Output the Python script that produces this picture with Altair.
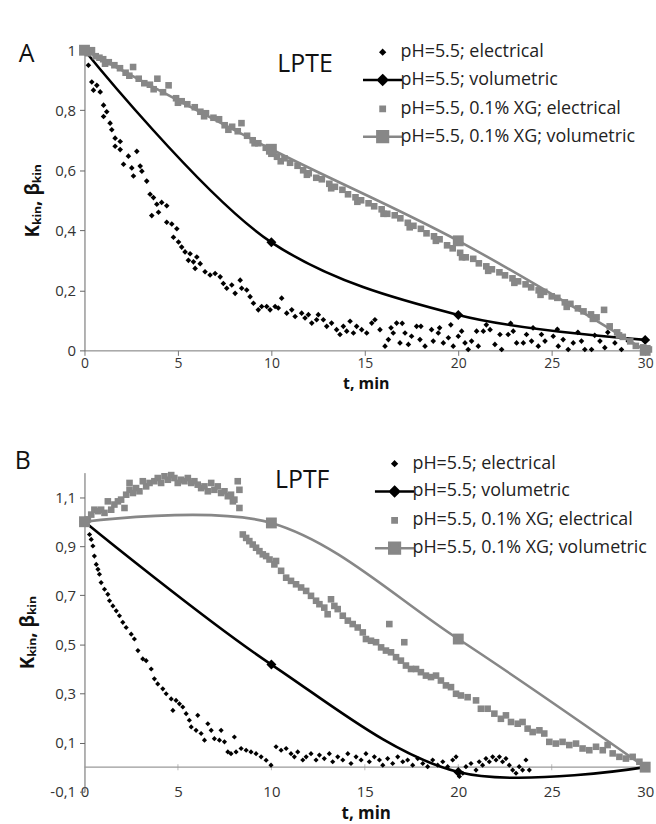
import altair as alt
import pandas as pd

GRAY = "#878787"
BLACK = "#000000"
FONT = "Open Sans"

series_names = ["pH=5.5; electrical", "pH=5.5; volumetric",
                "pH=5.5, 0.1% XG; electrical", "pH=5.5, 0.1% XG; volumetric"]
x_ticks = [0, 5, 10, 15, 20, 25, 30]
a_y_ticks = [0, 0.2, 0.4, 0.6, 0.8, 1.0]
b_y_ticks = [-0.1, 0.1, 0.3, 0.5, 0.7, 0.9, 1.1]

# ---------------- Panel A (LPTE) ----------------
a_blk_el_t = [0.21, 0.39, 0.48, 0.66, 0.84, 1.02, 1.02, 1.19, 1.37, 1.46, 1.64, 1.64, 1.91, 1.91, 2.09,
              2.35, 2.53, 2.62, 2.80, 2.98, 3.07, 3.33, 3.51, 3.60, 3.69, 3.87, 3.96, 4.13, 4.40, 4.40,
              4.67, 4.76, 4.94, 5.03, 5.20, 5.38, 5.56, 5.65, 5.83, 5.92, 6.01, 6.19, 6.45, 6.72, 6.99,
              7.26, 7.43, 7.61, 7.88, 8.06, 8.33, 8.41, 8.68, 8.86, 9.04, 9.30, 9.48, 9.75, 9.93, 10.2,
              10.37, 10.55, 10.82, 11.09, 11.27, 11.62, 11.8, 11.98, 12.16, 12.42, 12.51, 12.78, 12.96,
              13.22, 13.49, 13.67, 13.85, 14.03, 14.21, 14.39, 14.56, 14.83, 15.1, 15.37, 15.54, 15.81,
              16.08, 16.26, 16.4, 16.52, 16.70, 16.88, 17.0, 17.15, 17.33, 17.5, 17.77, 17.95, 18.0, 18.22,
              18.57, 18.66, 18.93, 19.0, 19.2, 19.47, 19.6, 19.73, 20.0, 20.18, 20.36, 20.53, 20.71, 20.98,
              21.07, 21.34, 21.5, 21.7, 21.96, 22.23, 22.32, 22.67, 22.8, 22.94, 23.12, 23.48, 23.65,
              23.92, 24.0, 24.28, 24.45, 24.64, 25.08, 25.3, 25.35, 25.61, 25.88, 26.15, 26.4, 26.59,
              26.77, 27.13, 27.3, 27.58, 27.84, 28.0, 28.38, 28.73, 29.09]
a_blk_el_v = [0.95, 0.894, 0.867, 0.883, 0.861, 0.817, 0.779, 0.795, 0.757, 0.735, 0.707, 0.68, 0.696, 0.669, 0.62,
              0.647, 0.608, 0.581, 0.663, 0.614, 0.597, 0.564, 0.52, 0.449, 0.509, 0.487, 0.46, 0.493, 0.482, 0.427,
              0.421, 0.377, 0.405, 0.361, 0.344, 0.328, 0.30, 0.322, 0.295, 0.273, 0.311, 0.289, 0.262, 0.251, 0.256,
              0.245, 0.223, 0.207, 0.218, 0.19, 0.234, 0.207, 0.201, 0.179, 0.157, 0.135, 0.146, 0.146, 0.135, 0.146,
              0.141, 0.174, 0.124, 0.135, 0.113, 0.124, 0.108, 0.119, 0.091, 0.102, 0.119, 0.102, 0.080,
              0.091, 0.069, 0.053, 0.080, 0.064, 0.097, 0.058, 0.080, 0.069, 0.058, 0.091, 0.102, 0.069,
              0.014, 0.036, 0.075, 0.058, 0.091, 0.025, 0.09, 0.058, 0.020, 0.047, 0.080, 0.036, 0.08, 0.014,
              0.069, 0.031, 0.058, 0.075, 0.025, 0.042, 0.085, 0.014, 0.047, 0.064, 0.025, 0.003, 0.031, 0.064,
              0.014, 0.064, 0.085, 0.069, 0.020, 0.053, 0.003, 0.053, 0.09, 0.064, 0.025, 0.025, 0.053,
              0.031, 0.075, 0.014, 0.053, 0.031, 0.047, 0.07, 0.014, 0.036, 0.003, 0.025, 0.06, 0.031,
              0.003, 0.003, 0.05, 0.031, 0.009, 0.06, 0.025, 0.003, 0.031]

a_blk_vol_t = [0, 10, 20, 30]
a_blk_vol_v = [1.0, 0.36, 0.118, 0.035]

a_gry_el_t = [0, 0.2, 0.4, 0.6, 0.8, 1.0, 1.1, 1.3, 1.6, 1.9, 2.2, 2.4, 2.6, 2.9, 3.2, 3.5, 3.7, 3.9, 4.2, 4.5,
              4.9, 5.0, 5.2, 5.5, 5.9, 6.2, 6.4, 6.5, 6.9, 7.2, 7.5, 7.7, 7.9, 8.2, 8.4, 8.7, 9.0, 9.1, 9.3,
              9.7, 10.0, 10.3, 10.5, 10.7, 11.0, 11.4, 11.7, 11.9, 12.0, 12.4, 12.7, 13.1, 13.2, 13.4, 13.8,
              14.1, 14.5, 14.6, 14.8, 15.2, 15.5, 15.9, 16.0, 16.2, 16.6, 16.9, 17.3, 17.4, 17.6, 18.0, 18.3,
              18.7, 18.8, 19.0, 19.4, 19.7, 20.1, 20.2, 20.4, 20.8, 21.1, 21.5, 21.6, 21.8, 22.2, 22.5, 22.9,
              23.0, 23.2, 23.6, 23.9, 24.3, 24.4, 24.6, 25.0, 25.3, 25.7, 25.8, 26.0, 26.4, 26.7, 27.1, 27.2,
              27.4, 27.8, 28.1, 28.5, 28.6, 28.8, 29.2, 29.5, 29.9, 30.2]
a_gry_el_v = [1.0, 0.99, 1.0, 0.98, 0.975, 0.97, 0.955, 0.96, 0.95, 0.94, 0.925, 0.915, 0.944, 0.905, 0.89, 0.885,
              0.87, 0.905, 0.86, 0.883, 0.84, 0.825, 0.83, 0.82, 0.81, 0.795, 0.78, 0.79, 0.775, 0.77, 0.75,
              0.735, 0.745, 0.73, 0.757, 0.715, 0.70, 0.69, 0.69, 0.675, 0.655, 0.645, 0.63, 0.64, 0.625,
              0.615, 0.60, 0.585, 0.59, 0.575, 0.57, 0.555, 0.54, 0.545, 0.535, 0.52, 0.51, 0.495, 0.50,
              0.49, 0.48, 0.47, 0.455, 0.455, 0.45, 0.44, 0.425, 0.41, 0.415, 0.405, 0.39, 0.38, 0.365,
              0.37, 0.35, 0.34, 0.325, 0.31, 0.31, 0.305, 0.29, 0.28, 0.265, 0.27, 0.26, 0.25, 0.24, 0.225,
              0.23, 0.22, 0.21, 0.20, 0.185, 0.195, 0.18, 0.175, 0.16, 0.145, 0.155, 0.14, 0.13, 0.12, 0.105,
              0.11, 0.135, 0.08, 0.06, 0.05, 0.045, 0.03, 0.015, 0.01, 0.003]

a_gry_vol_t = [0, 10, 20, 30]
a_gry_vol_v = [1.0, 0.67, 0.365, 0.0]

# ---------------- Panel B (LPTF) ----------------
b_blk_el_t = [0.27, 0.36, 0.45, 0.53, 0.63, 0.72, 0.80, 0.89, 1.07, 1.25, 1.34, 1.52, 1.70, 1.87, 2.05,
              2.23, 2.50, 2.67, 2.86, 3.12, 3.30, 3.57, 3.74, 3.92, 4.19, 4.37, 4.64, 4.73, 4.90, 5.08,
              5.26, 5.44, 5.61, 5.71, 5.97, 6.06, 6.24, 6.42, 6.60, 6.78, 6.95, 7.22, 7.31, 7.49, 7.67,
              7.84, 8.02, 8.11, 8.38, 8.65, 8.91, 9.18, 9.45, 9.72, 9.98, 10.25, 10.52, 10.79, 11.05,
              11.23, 11.41, 11.68, 11.86, 12.12, 12.39, 12.57, 12.83, 13.1, 13.28, 13.55, 13.82, 14.09,
              14.26, 14.53, 14.8, 15.06, 15.24, 15.51, 15.78, 15.96, 16.22, 16.49, 16.76, 17.03, 17.29,
              17.56, 17.83, 18.1, 18.36, 18.63, 18.9, 19.17, 19.43, 19.70, 19.88, 20.06, 20.24, 20.41,
              20.68, 20.95, 21.12, 21.3, 21.48, 21.66, 21.84, 22.02, 22.2, 22.37, 22.55, 22.73, 22.91,
              23.09, 23.26, 23.44, 23.62, 23.8]
b_blk_el_v = [0.948, 0.928, 0.901, 0.860, 0.826, 0.806, 0.786, 0.752, 0.725, 0.704, 0.678, 0.657, 0.637, 0.617, 0.590,
              0.569, 0.542, 0.522, 0.475, 0.441, 0.434, 0.400, 0.360, 0.339, 0.319, 0.299, 0.278, 0.231, 0.272, 0.258,
              0.245, 0.218, 0.191, 0.164, 0.150, 0.211, 0.137, 0.110, 0.177, 0.150, 0.116, 0.110, 0.150, 0.103, 0.062,
              0.055, 0.123, 0.062, 0.076, 0.069, 0.062, 0.055, 0.042, 0.028, 0.008, 0.083, 0.069, 0.076, 0.055,
              0.042, 0.062, 0.029, 0.042, 0.055, 0.029, 0.049, 0.035, 0.055, 0.022, 0.042, 0.029, 0.055,
              0.015, 0.042, 0.029, 0.055, 0.022, 0.042, 0.029, 0.008, 0.035, 0.015, 0.042, 0.022, 0.029,
              0.008, 0.035, 0.015, 0.002, 0.029, 0.008, 0.022, 0.002, 0.029, 0.042, -0.038, -0.025, 0.002,
              0.015, -0.012, 0.022, 0.008, 0.035, 0.022, 0.042, 0.029, 0.042, 0.022, 0.035, 0.008, -0.012,
              -0.025, 0.002, -0.012, 0.029, -0.012]

b_blk_vol_t = [0, 10, 20, 30]
b_blk_vol_v = [1.0, 0.418, -0.02, 0.0]

b_gry_el_t = [0, 0.18, 0.36, 0.53, 0.72, 0.89, 1.07, 1.25, 1.43, 1.60, 1.79, 1.96, 2.14, 2.23, 2.41, 2.41,
              2.59, 2.76, 2.94, 3.12, 3.30, 3.48, 3.74, 3.92, 4.10, 4.28, 4.46, 4.64, 4.81, 4.99, 5.17,
              5.35, 5.53, 5.71, 5.88, 6.06, 6.24, 6.42, 6.60, 6.78, 6.95, 7.13, 7.31, 7.49, 7.67, 7.84,
              7.94, 8.02, 8.20, 8.29, 8.29,
              8.47, 8.65, 8.82, 9.0, 9.18, 9.36, 9.54, 9.72, 9.9, 10.16, 10.25, 10.52, 10.79, 11.05, 11.32,
              11.59, 11.86, 12.12, 12.39, 12.57, 12.83, 13.01, 13.19, 13.37, 13.55, 13.82, 14.09, 14.35,
              14.62, 14.89, 15.06, 15.33, 15.6, 15.87, 16.13, 16.31, 16.4, 16.67, 16.93, 17.11, 17.2, 17.47,
              17.74, 18.0, 18.27, 18.54, 18.81, 19.07, 19.34, 19.61, 19.88, 20.14, 20.5, 20.95, 21.21, 21.57,
              21.93, 22.28, 22.55, 22.82, 23.18, 23.44, 23.71, 23.98, 24.34, 24.6, 24.87, 25.22, 25.58,
              25.94, 26.3, 26.65, 27.01, 27.37, 27.73, 27.99, 28.26, 28.62, 28.97, 29.33, 29.69, 30.0]
b_gry_el_v = [1.002, 1.009, 1.029, 1.049, 1.043, 1.049, 1.036, 1.083, 1.049, 1.070, 1.083, 1.09, 1.056, 1.110, 1.13, 1.158,
              1.117, 1.137, 1.124, 1.165, 1.144, 1.158, 1.165, 1.178, 1.158, 1.185, 1.171, 1.19, 1.178, 1.158, 1.171,
              1.165, 1.178, 1.158, 1.165, 1.151, 1.137, 1.144, 1.124, 1.158, 1.13, 1.144, 1.117, 1.124, 1.104, 1.110,
              1.083, 1.090, 1.165, 1.130, 1.056,
              0.948, 0.934, 0.921, 0.907, 0.894, 0.88, 0.867, 0.86, 0.846, 0.826, 0.84, 0.80, 0.772, 0.759, 0.745,
              0.732, 0.718, 0.698, 0.678, 0.664, 0.650, 0.623, 0.684, 0.657, 0.644, 0.617, 0.597, 0.583,
              0.569, 0.549, 0.522, 0.515, 0.509, 0.488, 0.475, 0.583, 0.468, 0.448, 0.434, 0.509, 0.414, 0.400,
              0.400, 0.387, 0.373, 0.367, 0.373, 0.353, 0.333, 0.326, 0.299, 0.292, 0.285, 0.272, 0.238, 0.238,
              0.218, 0.197, 0.211, 0.184, 0.177, 0.184, 0.157, 0.143, 0.150, 0.137, 0.103, 0.096, 0.103,
              0.090, 0.096, 0.076, 0.069, 0.083, 0.069, 0.090, 0.056, 0.042, 0.035, 0.042, 0.022, 0.002]

b_gry_vol_t = [0, 10, 20, 30]
b_gry_vol_v = [1.0, 0.995, 0.522, 0.0]

# annotations (data coordinates)
a_label = {"text": ["A"], "t": [-3.1], "v": [0.987]}
a_name = {"text": ["LPTE"], "t": [11.8], "v": [0.953]}
b_label = {"text": ["B"], "t": [-3.3], "v": [1.247]}
b_name = {"text": ["LPTF"], "t": [11.65], "v": [1.17]}

legend_paths = [
    "M0,-0.15L0.15,0L0,0.15L-0.15,0Z",
    "M-1.55,0L1.55,0M0,-0.36L0.36,0L0,0.36L-0.36,0Z",
    "M-0.17,-0.17L0.17,-0.17L0.17,0.17L-0.17,0.17Z",
    "M-1.55,0L1.55,0M-0.42,-0.42L0.42,-0.42L0.42,0.42L-0.42,0.42Z",
]
legend_colors = [BLACK, BLACK, GRAY, GRAY]

X_DOMAIN = [0, 30.1]
LABEL_EXPR = "replace(replace(format(datum.value, '.1~f'), '.', ','), '\u2212', '-')"
Y_TITLE = "K\u2096\u1d62\u2099, \u03b2\u2096\u1d62\u2099"


def df(t, v):
    return pd.DataFrame({"t": t, "v": v})


def panel(blk_el, blk_vol, gry_el, gry_vol, label, name, y_domain, y_ticks, width, height,
          legend_x, legend_y, x_axis, black_size):
    xs = alt.X("t:Q", scale=alt.Scale(domain=X_DOMAIN, nice=False, zero=False), axis=x_axis)
    ys = alt.Y("v:Q", scale=alt.Scale(domain=y_domain, nice=False, zero=False),
               axis=alt.Axis(values=y_ticks, labelExpr=LABEL_EXPR, title=Y_TITLE, grid=False,
                             domainColor="#666666", tickColor="#666666", tickSize=5,
                             labelFontSize=15, labelColor="#333333", labelPadding=4,
                             titleFontSize=19, titleFontWeight="bold", titleColor="#111111",
                             titlePadding=12))
    x_plain = alt.X("t:Q")
    y_plain = alt.Y("v:Q")

    layers = []
    layers.append(alt.Chart(df(*blk_el)).mark_point(shape="diamond", filled=True, size=black_size,
                                                     color=BLACK, opacity=1).encode(x=xs, y=ys))
    layers.append(alt.Chart(df(*blk_vol)).mark_line(interpolate="catmull-rom", color=BLACK,
                                                     strokeWidth=2.6).encode(x=x_plain, y=y_plain))
    layers.append(alt.Chart(df(*blk_vol)).mark_point(shape="diamond", filled=True, size=100,
                                                      color=BLACK, opacity=1).encode(x=x_plain, y=y_plain))
    layers.append(alt.Chart(df(*gry_el)).mark_square(size=44, color=GRAY, opacity=1)
                  .encode(x=x_plain, y=y_plain))
    layers.append(alt.Chart(df(*gry_vol)).mark_line(interpolate="catmull-rom", color=GRAY,
                                                     strokeWidth=2.6).encode(x=x_plain, y=y_plain))
    layers.append(alt.Chart(df(*gry_vol)).mark_square(size=120, color=GRAY, opacity=1)
                  .encode(x=x_plain, y=y_plain))
    layers.append(alt.Chart(pd.DataFrame(label)).mark_text(fontSize=25, font=FONT, color="#111111",
                                                            align="center", baseline="middle")
                  .encode(x=x_plain, y=y_plain, text="text:N"))
    layers.append(alt.Chart(pd.DataFrame(name)).mark_text(fontSize=25, font=FONT, color="#111111",
                                                           align="center", baseline="middle")
                  .encode(x=x_plain, y=y_plain, text="text:N"))

    leg = alt.Legend(title=None, orient="none", legendX=legend_x, legendY=legend_y,
                     labelFont=FONT, labelFontSize=18, labelColor="#222222", labelOffset=4,
                     symbolSize=650, symbolStrokeWidth=2.5, rowPadding=5, padding=0,
                     labelLimit=400)
    legend_df = pd.DataFrame({"series": series_names, "t": [-100] * 4, "v": [-100] * 4})
    layers.append(alt.Chart(legend_df).mark_point(clip=True, opacity=1, fillOpacity=1,
                                                   strokeWidth=2.5)
                  .encode(x=x_plain, y=y_plain,
                          fill=alt.Fill("series:N", scale=alt.Scale(domain=series_names, range=legend_colors), legend=leg),
                          stroke=alt.Stroke("series:N", scale=alt.Scale(domain=series_names, range=legend_colors), legend=leg),
                          shape=alt.Shape("series:N", scale=alt.Scale(domain=series_names, range=legend_paths), legend=leg)))
    return alt.layer(*layers).properties(width=width, height=height)


axis_a = alt.Axis(values=x_ticks, title="t, min", grid=False, domainColor="#777777", tickColor="#777777",
                  tickSize=5, labelFontSize=14, labelColor="#333333", labelPadding=1,
                  titleFontSize=16, titleFontWeight="bold", titleColor="#111111", titlePadding=5,
                  labelFlush=False)
axis_b = alt.Axis(values=x_ticks, title="t, min", grid=False, domain=False, ticks=False, tickSize=0,
                  labelFontSize=15, labelColor="#333333", labelPadding=0, labelBaseline="middle",
                  titleFontSize=17, titleFontWeight="bold", titleColor="#111111", titlePadding=6,
                  labelFlush=False)

chart_a = panel((a_blk_el_t, a_blk_el_v), (a_blk_vol_t, a_blk_vol_v), (a_gry_el_t, a_gry_el_v),
                (a_gry_vol_t, a_gry_vol_v), a_label, a_name, [0, 1], a_y_ticks, 566, 302,
                286, -12, axis_a, 32)

zero_line = alt.Chart(pd.DataFrame({"t": [0], "t2": [30.1], "v": [0]})).mark_rule(color="#9a9a9a", strokeWidth=1.2) \
    .encode(x="t:Q", x2="t2:Q", y="v:Q")
zero_ticks = alt.Chart(pd.DataFrame({"t": x_ticks[1:], "v": [0] * 6})).mark_tick(
    orient="vertical", color="#9a9a9a", size=6, thickness=1).encode(x="t:Q", y="v:Q")

chart_b_core = panel((b_blk_el_t, b_blk_el_v), (b_blk_vol_t, b_blk_vol_v), (b_gry_el_t, b_gry_el_v),
                     (b_gry_vol_t, b_gry_vol_v), b_label, b_name, [-0.1, 1.2], b_y_ticks, 566, 321,
                     298, -23, axis_b, 27)
chart_b = alt.layer(zero_line, zero_ticks, *chart_b_core.layer).properties(width=566, height=321)

chart = alt.vconcat(chart_a, chart_b, spacing=58).resolve_scale(
    fill="independent", stroke="independent", shape="independent"
).resolve_legend(fill="independent", stroke="independent", shape="independent").properties(
    padding={"left": 14, "top": 36, "right": 2, "bottom": 2}
).configure_view(stroke=None).configure_axis(labelFont=FONT, titleFont=FONT)

chart.save("out.html", embed_options={"renderer": "svg", "actions": False})
